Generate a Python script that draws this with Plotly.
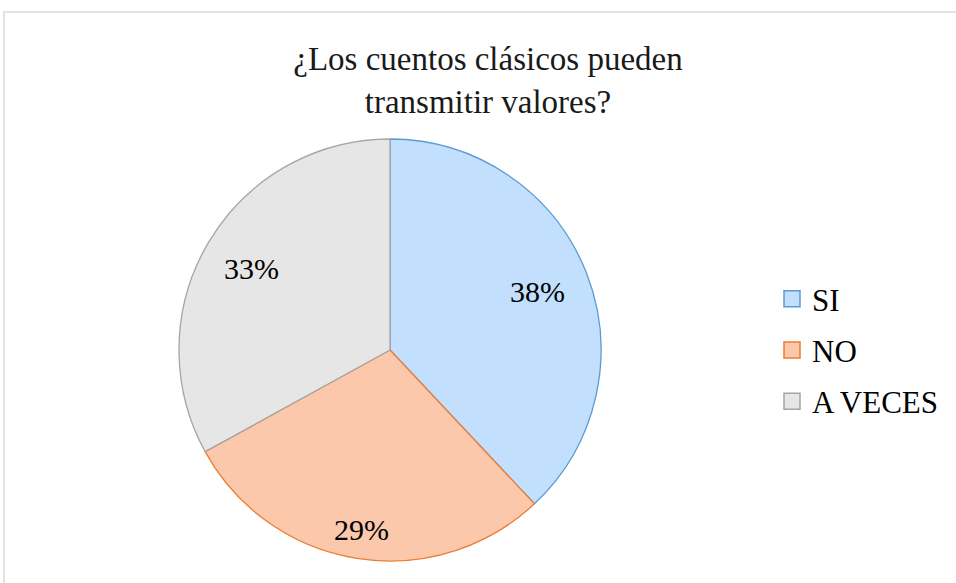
import math
import plotly.graph_objects as go

# datos de la encuesta
respuestas = ['SI', 'NO', 'A VECES']
porcentajes = [38, 29, 33]
colores = ['#C2DFFD', '#FCC8AC', '#E6E6E6']
bordes = ['#5B9BD5', '#ED7D31', '#A5A5A5']

W, H = 956, 583
FONT = 'Liberation Serif, Times New Roman, serif'

# geometría del pastel (píxeles)
cx, cy, R = 390, 350, 211
radio_etiqueta = [0.75, 0.86, 0.76]

fig = go.Figure()
fig.add_trace(go.Pie(
    labels=respuestas,
    values=porcentajes,
    sort=False,
    direction='clockwise',
    rotation=0,
    marker=dict(colors=colores, line=dict(color=bordes, width=1.3)),
    textinfo='none',
    showlegend=False,
    domain=dict(x=[(cx - R) / W, (cx + R) / W], y=[1 - (cy + R) / H, 1 - (cy - R) / H]),
    hoverinfo='label+percent',
))

# leyenda: una entrada por respuesta para poder separar las filas
for r, c, b in zip(respuestas, colores, bordes):
    fig.add_trace(go.Scatter(
        x=[None], y=[None], mode='markers', name=r, legendgroup=r,
        marker=dict(symbol='square', size=16, color=c, line=dict(color=b, width=1.5)),
    ))

# etiquetas de porcentaje, colocadas según el ángulo medio de cada sector
total = sum(porcentajes)
acum = 0
for v, rf in zip(porcentajes, radio_etiqueta):
    ang = 2 * math.pi * (acum + v / 2) / total
    acum += v
    px_ = cx + rf * R * math.sin(ang)
    py_ = cy - rf * R * math.cos(ang)
    fig.add_annotation(x=px_ / W, y=1 - py_ / H, xref='paper', yref='paper',
                       xanchor='center', yanchor='middle',
                       text=f'{v}%', showarrow=False,
                       font=dict(family=FONT, size=30, color='black'))

fig.update_layout(
    width=W, height=H,
    margin=dict(l=0, r=0, t=0, b=0),
    paper_bgcolor='white',
    plot_bgcolor='white',
    xaxis=dict(visible=False),
    yaxis=dict(visible=False),
    title=dict(text='¿Los cuentos clásicos pueden<br>transmitir valores?',
               x=488 / W, xanchor='center', y=1 - 70 / H, yanchor='middle',
               font=dict(family=FONT, size=33, color='#1a1a1a')),
    legend=dict(x=772 / W, xanchor='left', y=1 - 350 / H, yanchor='middle',
                font=dict(family=FONT, size=31, color='black'),
                tracegroupgap=8, itemwidth=30),
    shapes=[dict(type='rect', xref='paper', yref='paper',
                 x0=4 / W, x1=1.01, y0=-0.01, y1=1 - 12 / H,
                 line=dict(color='#D9D9D9', width=1.5))],
)

fig.write_html('out.html', post_script="document.body.style.margin='0';",
               config={'displayModeBar': False})
